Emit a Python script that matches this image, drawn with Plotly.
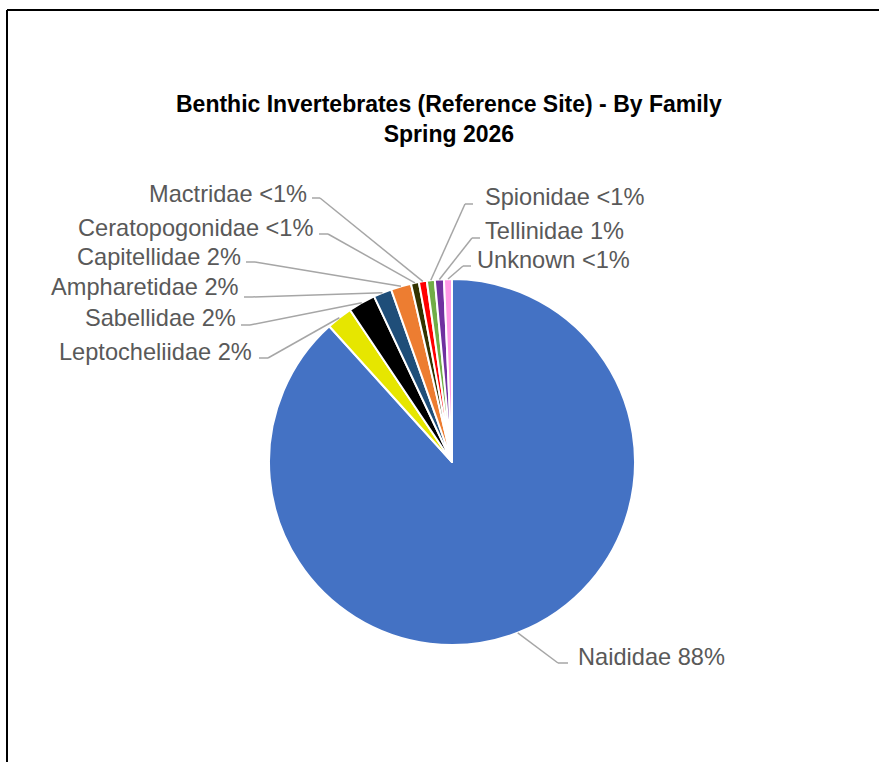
import math
import plotly.graph_objects as go

families = ["Naididae", "Leptocheliidae", "Sabellidae", "Ampharetidae", "Capitellidae",
            "Ceratopogonidae", "Mactridae", "Spionidae", "Tellinidae", "Unknown"]
percent = [88.3, 2.3, 2.4, 1.6, 1.8, 0.7, 0.7, 0.7, 0.8, 0.7]
pct_labels = ["88%", "2%", "2%", "2%", "2%", "<1%", "<1%", "<1%", "1%", "<1%"]
colors = ["#4472C4", "#E6E600", "#000000", "#1F4E79", "#ED7D31",
          "#333300", "#FF0000", "#70AD47", "#7030A0", "#FF99E6"]

W, H = 879, 762
CX, CY, R = 452, 462, 183

def px(x):
    return x / W

def py(y):
    return 1 - y / H

fig = go.Figure(go.Pie(
    labels=families, values=percent, sort=False, direction="clockwise", rotation=0,
    marker=dict(colors=colors, line=dict(color="white", width=2)),
    textinfo="none", hoverinfo="label+percent", showlegend=False,
    domain=dict(x=[px(CX - R), px(CX + R)], y=[py(CY + R), py(CY - R)]),
))

# label layout: (text anchor x, text y, elbow x, elbow y, tick end x, side)
label_layout = {
    "Naididae": (576, 657, 558, 663, 568, "left"),
    "Leptocheliidae": (254, 352, 268, 358, 259, "right"),
    "Sabellidae": (238, 318, 250, 325, 241, "right"),
    "Ampharetidae": (241, 287, 252, 297, 244, "right"),
    "Capitellidae": (243, 257, 255, 262, 246, "right"),
    "Ceratopogonidae": (315, 228, 328, 234, 319, "right"),
    "Mactridae": (309, 194, 320, 198, 312, "right"),
    "Spionidae": (483, 197, 465, 204, 473, "left"),
    "Tellinidae": (483, 231, 472, 238, 480, "left"),
    "Unknown": (475, 260, 463, 266, 471, "left"),
}

total = sum(percent)
cum = 0.0
shapes = []
annotations = []
line_col = "#A6A6A6"
for fam, v, lab in zip(families, percent, pct_labels):
    theta = 2 * math.pi * (cum + v / 2) / total
    cum += v
    ex = CX + R * math.sin(theta)
    ey = CY - R * math.cos(theta)
    tx, ty, bx, by, kx, side = label_layout[fam]
    shapes.append(dict(type="line", xref="paper", yref="paper",
                       x0=px(ex), y0=py(ey), x1=px(bx), y1=py(by),
                       line=dict(color=line_col, width=1.5)))
    shapes.append(dict(type="line", xref="paper", yref="paper",
                       x0=px(bx), y0=py(by), x1=px(kx), y1=py(by),
                       line=dict(color=line_col, width=1.5)))
    annotations.append(dict(text=f"{fam} {lab}", xref="paper", yref="paper",
                            x=px(tx), y=py(ty), xanchor=side, yanchor="middle",
                            showarrow=False,
                            font=dict(family="Liberation Sans", size=23.6, color="#595959")))

annotations.append(dict(text="<b>Benthic Invertebrates (Reference Site) - By Family</b><br><b>Spring 2026</b>",
                        xref="paper", yref="paper", x=px(449), y=py(119),
                        xanchor="center", yanchor="middle", showarrow=False,
                        font=dict(family="Liberation Sans", size=23, color="#000000")))

# chart frame (top and left edges visible)
shapes.append(dict(type="line", xref="paper", yref="paper", x0=px(7), y0=py(10), x1=1, y1=py(10),
                   line=dict(color="black", width=2)))
shapes.append(dict(type="line", xref="paper", yref="paper", x0=px(7), y0=py(10), x1=px(7), y1=0,
                   line=dict(color="black", width=2)))

fig.update_layout(width=W, height=H, margin=dict(l=0, r=0, t=0, b=0),
                  paper_bgcolor="white", plot_bgcolor="white",
                  shapes=shapes, annotations=annotations)

fig.write_html("out.html", config={"displayModeBar": False},
               post_script="document.body.style.margin='0';document.body.style.overflow='hidden';")
